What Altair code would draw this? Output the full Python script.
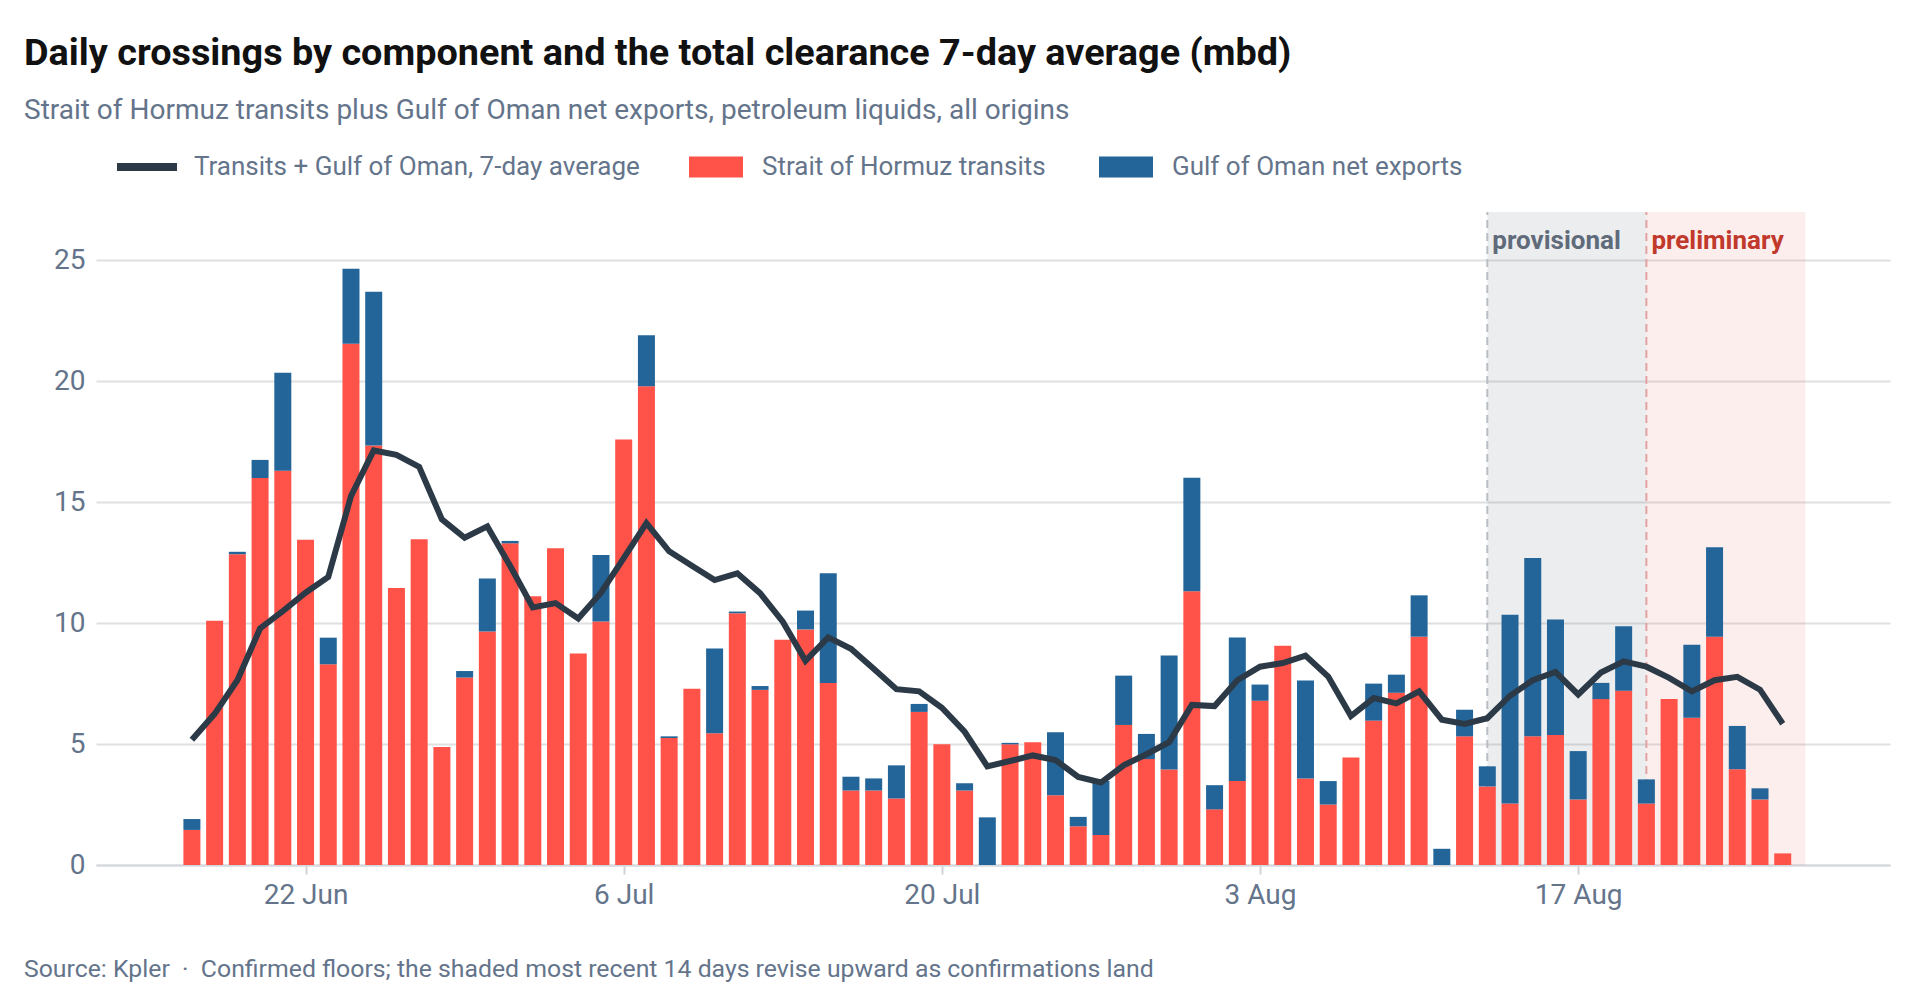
import altair as alt
import pandas as pd

# ---- data ----
dates = pd.date_range("2025-06-17", "2025-08-26", freq="D").strftime("%Y-%m-%d").tolist()

hormuz = [1.45, 10.1, 12.85, 16.0, 16.3, 13.45, 8.3, 21.55, 17.35, 11.45,
          13.47, 4.88, 7.75, 9.65, 13.3, 11.11, 13.1, 8.74, 10.07, 17.59,
          19.8, 5.25, 7.29, 5.45, 10.41, 7.24, 9.31, 9.74, 7.53, 3.08,
          3.08, 2.75, 6.33, 4.99, 3.08, 0.0, 4.99, 5.08, 2.88, 1.6,
          1.24, 5.79, 4.38, 3.95, 11.32, 2.30, 3.47, 6.79, 9.07, 3.58,
          2.50, 4.45, 5.97, 7.12, 9.44, 0.0, 5.32, 3.25, 2.54, 5.32,
          5.38, 2.71, 6.86, 7.20, 2.54, 6.86, 6.09, 9.44, 3.96, 2.71,
          0.48]

oman = [0.45, 0.0, 0.1, 0.75, 4.05, 0.0, 1.1, 3.1, 6.35, 0.0,
        0.0, 0.0, 0.27, 2.2, 0.1, 0.0, 0.0, 0.0, 2.75, 0.0,
        2.1, 0.07, 0.0, 3.5, 0.07, 0.16, 0.0, 0.78, 4.53, 0.57,
        0.5, 1.37, 0.33, 0.0, 0.3, 1.97, 0.06, 0.0, 2.61, 0.39,
        2.23, 2.04, 1.04, 4.71, 4.69, 1.0, 5.94, 0.67, 0.0, 4.05,
        0.97, 0.0, 1.53, 0.75, 1.71, 0.67, 1.1, 0.83, 7.81, 7.37,
        4.77, 2.0, 0.67, 2.67, 1.0, 0.0, 3.02, 3.7, 1.79, 0.46,
        0.0]

avg7 = [5.18, 6.25, 7.64, 9.78, 10.5, 11.26, 11.91, 15.25, 17.14, 16.96,
        16.46, 14.29, 13.53, 14.0, 12.37, 10.65, 10.83, 10.19, 11.26, 12.69,
        14.14, 12.97, 12.37, 11.78, 12.06, 11.24, 10.06, 8.44, 9.41, 8.94,
        8.11, 7.27, 7.18, 6.5, 5.51, 4.08, 4.30, 4.53, 4.34, 3.64,
        3.41, 4.12, 4.58, 5.08, 6.62, 6.57, 7.64, 8.20, 8.35, 8.66,
        7.79, 6.16, 6.90, 6.68, 7.18, 6.01, 5.83, 6.07, 7.0, 7.64,
        7.98, 7.05, 7.96, 8.42, 8.20, 7.74, 7.18, 7.64, 7.78, 7.25,
        5.84]

series_names = ["Strait of Hormuz transits", "Gulf of Oman net exports"]
series_colors = ["#ff5349", "#236599"]
line_name = "Transits + Gulf of Oman, 7-day average"
line_color = "#2c3a48"

phase_labels = ["provisional", "preliminary"]
phase_start = ["2025-08-13", "2025-08-20"]
phase_end = ["2025-08-20", "2025-08-27"]
phase_fill = ["#646e7d", "#eb4646"]
phase_opacity = [0.12, 0.095]
phase_rule = ["#b9bdc4", "#e2a3a3"]
phase_text = ["#5f6b7a", "#c0392b"]

y_ticks = [0, 5, 10, 15, 20, 25]
x_tick_dates = [(6, 22), (7, 6), (7, 20), (8, 3), (8, 17)]

title_text = "Daily crossings by component and the total clearance 7-day average (mbd)"
subtitle_text = "Strait of Hormuz transits plus Gulf of Oman net exports, petroleum liquids, all origins"
footer_text = ("Source: Kpler\u00a0\u00a0\u00b7\u00a0\u00a0Confirmed floors; the shaded most recent "
               "14 days revise upward as confirmations land")

# ---- tables ----
bars_rows = []
for d, h, o in zip(dates, hormuz, oman):
    bars_rows.append({"date": d, "series": series_names[0], "value": h, "ord": 0})
    bars_rows.append({"date": d, "series": series_names[1], "value": o, "ord": 1})
bars_df = pd.DataFrame(bars_rows)

line_df = pd.DataFrame({"date": dates, "avg": avg7, "label": line_name})

phase_df = pd.DataFrame({
    "label": phase_labels, "start": phase_start, "end": phase_end,
    "fill": phase_fill, "op": phase_opacity, "rule": phase_rule, "tcolor": phase_text,
})

font = "Roboto"
W, H = 1794, 653
slate = "#64748b"

x_scale = alt.Scale(
    type="utc",
    domain=[alt.DateTime(year=2025, month=6, date=13, utc=True),
            alt.DateTime(year=2025, month=8, date=30, hours=12, utc=True)],
)
y_scale = alt.Scale(domain=[0, 27], nice=False)

x_axis = alt.Axis(
    values=[alt.DateTime(year=2025, month=m, date=d, utc=True) for m, d in x_tick_dates],
    format="%-d %b", title=None, grid=False,
    labelFont=font, labelFontSize=28, labelColor=slate, labelPadding=7,
    tickColor="#cfd3d8", tickSize=9, tickWidth=2,
    domainColor="#d4d7db", domainWidth=2,
)
y_axis = alt.Axis(
    values=y_ticks, title=None, domain=False, ticks=False, grid=True,
    labelFont=font, labelFontSize=28, labelColor=slate, labelPadding=11,
    gridColor="#dfe0e2", gridWidth=2, gridOpacity=1,
)

shade = alt.Chart(phase_df).mark_rect().encode(
    x=alt.X("start:T", scale=x_scale, axis=x_axis),
    x2="end:T",
    y=alt.datum(0, scale=y_scale, axis=y_axis),
    y2=alt.datum(27),
    fill=alt.Fill("fill:N", scale=None),
    opacity=alt.Opacity("op:Q", scale=None),
)

rules = alt.Chart(phase_df).mark_rule(strokeDash=[8, 5], strokeWidth=2).encode(
    x=alt.X("start:T", scale=x_scale),
    y=alt.datum(0),
    y2=alt.datum(27),
    color=alt.Color("rule:N", scale=None),
)

labels = alt.Chart(phase_df).mark_text(
    align="left", baseline="middle", dx=5, dy=29,
    font=font, fontSize=26, fontWeight="bold",
).encode(
    x=alt.X("start:T", scale=x_scale),
    y=alt.datum(27),
    text="label:N",
    color=alt.Color("tcolor:N", scale=None),
)

bar_legend = alt.Legend(
    title=None, orient="none", direction="horizontal",
    legendX=593, legendY=-72, padding=0,
    symbolType="M-1,-0.39L1,-0.39L1,0.39L-1,0.39Z", symbolSize=2916,
    symbolStrokeWidth=0, symbolOpacity=1,
    labelFont=font, labelFontSize=26, labelColor=slate, labelOffset=19,
    columnPadding=53, labelLimit=600,
)

bars = alt.Chart(bars_df).mark_bar(width=17).encode(
    x=alt.X("date:T", scale=x_scale),
    y=alt.Y("value:Q", stack="zero", scale=y_scale, axis=y_axis),
    color=alt.Color("series:N", scale=alt.Scale(domain=series_names, range=series_colors),
                    legend=bar_legend),
    order=alt.Order("ord:Q"),
)

line_legend = alt.Legend(
    title=None, orient="none", legendX=21, legendY=-75, padding=0,
    symbolType="M-1,-0.13L1,-0.13L1,0.13L-1,0.13Z", symbolSize=3600,
    symbolStrokeWidth=0, symbolFillColor=line_color,
    labelFont=font, labelFontSize=26, labelColor=slate, labelOffset=17, labelLimit=600,
)

line = alt.Chart(line_df).mark_line(strokeWidth=6).encode(
    x=alt.X("date:T", scale=x_scale),
    y=alt.Y("avg:Q", scale=y_scale),
    stroke=alt.Stroke("label:N", scale=alt.Scale(domain=[line_name], range=[line_color]),
                      legend=line_legend),
)

footer = alt.Chart(pd.DataFrame({"t": [footer_text]})).mark_text(
    align="left", baseline="middle", font=font, fontSize=24.8, color=slate,
).encode(x=alt.value(-72), y=alt.value(758), text="t:N")

chart = alt.layer(shade, rules, bars, line, labels, footer).properties(
    width=W, height=H,
    autosize="none",
    padding={"left": 88, "top": 204, "right": 10, "bottom": 128},
    title=alt.TitleParams(
        text=title_text,
        subtitle=subtitle_text,
        anchor="start", offset=12,
        font=font, fontSize=37.8, fontWeight="bold", color="#111111",
        subtitleFont=font, subtitleFontSize=28, subtitleColor=slate, subtitlePadding=24,
    ),
).configure_view(strokeWidth=0, stroke="transparent")

chart.save("out.html", embed_options={"renderer": "svg", "actions": False})
